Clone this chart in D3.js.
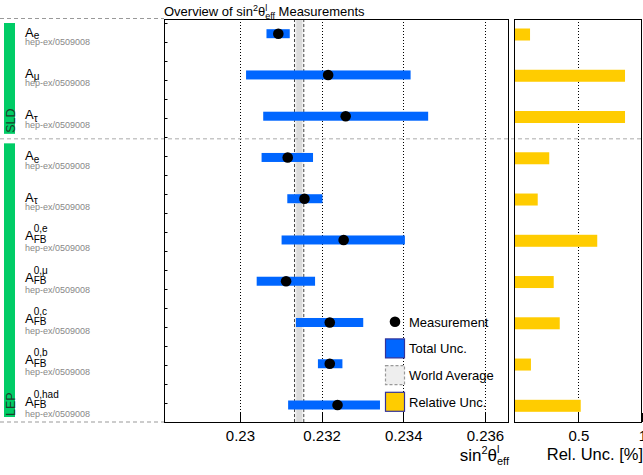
<!DOCTYPE html>
<html><head><meta charset="utf-8">
<script src="https://cdn.jsdelivr.net/npm/d3@7"></script>
<style>body{margin:0;background:#fff} svg{display:block;font-family:"Liberation Sans",Arial,Helvetica,sans-serif}</style>
</head><body><svg id="c" width="643" height="475"></svg>
<script>
// ---- data ----
const labelBase = ["A","A","A","A","A","A","A","A","A","A"];
const labelSub  = ["e","μ","τ","e","τ","FB","FB","FB","FB","FB"];
const labelSup  = ["","","","","","0,e","0,μ","0,c","0,b","0,had"];
const references = ["hep-ex/0509008","hep-ex/0509008","hep-ex/0509008","hep-ex/0509008","hep-ex/0509008",
                    "hep-ex/0509008","hep-ex/0509008","hep-ex/0509008","hep-ex/0509008","hep-ex/0509008"];
const groupNames = ["SLD","LEP"];
const groupSizes = [3,7];
const measValue = [0.23094,0.23216,0.23259,0.23117,0.23158,0.23254,0.23113,0.23220,0.23220,0.23239];
const totalLow  = [0.23065,0.23015,0.23057,0.23053,0.23116,0.23102,0.23041,0.23137,0.23191,0.23118];
const totalHigh = [0.23122,0.23418,0.23461,0.23179,0.23202,0.23404,0.23184,0.23302,0.23251,0.23343];
const relUnc    = [0.123,0.865,0.865,0.273,0.183,0.648,0.308,0.355,0.130,0.519];
const worldAverage = 0.23145;
const worldAverageErr = 0.000114;
const xTicks = [0.23,0.232,0.234,0.236];
const xTickLabels = ["0.23","0.232","0.234","0.236"];
const relTicks = [0.5,1];
const relTickLabels = ["0.5","1"];
const legendLabels = ["Measurement","Total Unc.","World Average","Relative Unc."];

// ---- layout ----
const svg = d3.select("#c");
const plotTop = 19, plotBottom = 422;
const mainL = 164, mainR = 509, relL = 514, relR = 642;
const BLUE = "#0066ff", YELLOW = "#ffcc00", GREEN = "#00cc66";

const x = d3.scaleLinear().domain([0.22814,0.23659]).range([mainL,mainR]);
const xr = d3.scaleLinear().domain([0,1]).range([relL+0.3,relR+0.3]);
const n = measValue.length;
const y = d3.scalePoint().domain(d3.range(n)).range([33.7,405]);

// group separators
const groupStart = [];
let acc = 0; groupSizes.forEach(s => { groupStart.push(acc); acc += s; });
const seps = [plotTop - 0.5];
groupStart.slice(1).forEach(s => seps.push((y(s-1)+y(s))/2 + 2));
seps.push(plotBottom);

// panels background
svg.append("rect").attr("x",mainL).attr("y",plotTop).attr("width",mainR-mainL).attr("height",plotBottom-plotTop).attr("fill","#fff");
svg.append("rect").attr("x",relL).attr("y",plotTop).attr("width",relR-relL).attr("height",plotBottom-plotTop).attr("fill","#fff");

// world average band
svg.append("rect").attr("x",x(worldAverage-worldAverageErr)).attr("y",plotTop)
  .attr("width",x(worldAverage+worldAverageErr)-x(worldAverage-worldAverageErr)).attr("height",plotBottom-plotTop)
  .attr("fill","#efefef");
svg.append("rect").attr("x",x(worldAverage-worldAverageErr*0.6)).attr("y",plotTop)
  .attr("width",x(worldAverage+worldAverageErr*0.6)-x(worldAverage-worldAverageErr*0.6)).attr("height",plotBottom-plotTop)
  .attr("fill","#dadada");
[worldAverage-worldAverageErr, worldAverage+worldAverageErr].forEach(v => {
  svg.append("line").attr("x1",x(v)).attr("x2",x(v)).attr("y1",plotTop).attr("y2",plotBottom)
    .attr("stroke","#444").attr("stroke-width",1).attr("stroke-dasharray","3,2");
});

// dotted grid
xTicks.forEach(v => svg.append("line").attr("x1",Math.round(x(v))+0.5).attr("x2",Math.round(x(v))+0.5)
  .attr("y1",plotTop).attr("y2",plotBottom).attr("stroke","#000").attr("stroke-dasharray","1,2"));
relTicks.filter(v=>v<1).forEach(v => svg.append("line").attr("x1",Math.round(xr(v))+0.5).attr("x2",Math.round(xr(v))+0.5)
  .attr("y1",plotTop).attr("y2",plotBottom).attr("stroke","#000").attr("stroke-dasharray","1,2"));

// group separators (dashed)
svg.append("line").attr("x1",0).attr("x2",mainL).attr("y1",seps[0]).attr("y2",seps[0])
  .attr("stroke","#999").attr("stroke-dasharray","4,3");
svg.append("line").attr("x1",0).attr("x2",mainL).attr("y1",plotBottom).attr("y2",plotBottom)
  .attr("stroke","#999").attr("stroke-dasharray","4,3");
seps.slice(1,-1).forEach(s => svg.append("line").attr("x1",0).attr("x2",643).attr("y1",s).attr("y2",s)
  .attr("stroke","#aaa").attr("stroke-dasharray","4,3"));

// total uncertainty bars
const bh = 9;
svg.append("g").selectAll("rect").data(d3.range(n)).join("rect")
  .attr("x",i=>x(totalLow[i])).attr("y",i=>y(i)-bh/2)
  .attr("width",i=>x(totalHigh[i])-x(totalLow[i])).attr("height",bh).attr("fill",BLUE);
// measurement dots
svg.append("g").selectAll("circle").data(d3.range(n)).join("circle")
  .attr("cx",i=>x(measValue[i])).attr("cy",i=>y(i)).attr("r",5.3).attr("fill","#000");

// relative uncertainty bars
const yh = 12;
svg.append("g").selectAll("rect").data(d3.range(n)).join("rect")
  .attr("x",xr(0)).attr("y",i=>y(i)-yh/2+0.8)
  .attr("width",i=>xr(relUnc[i])-xr(0)).attr("height",yh).attr("fill",YELLOW);

// frames
svg.append("rect").attr("x",mainL+0.5).attr("y",plotTop+0.5).attr("width",mainR-mainL-1).attr("height",plotBottom-plotTop)
  .attr("fill","none").attr("stroke","#000");
svg.append("rect").attr("x",relL+0.5).attr("y",plotTop+0.5).attr("width",relR-relL-1).attr("height",plotBottom-plotTop)
  .attr("fill","none").attr("stroke","#000");

// left minor ticks
for (let t = 23.3; t < plotBottom; t += 19) {
  svg.append("line").attr("x1",mainL).attr("x2",mainL+3.5).attr("y1",Math.round(t)+0.5).attr("y2",Math.round(t)+0.5)
    .attr("stroke","#000");
}

// bottom axes
const ax = d3.axisBottom(x).tickValues(xTicks).tickFormat((d,i)=>xTickLabels[i]).tickSize(0).tickPadding(8);
const gx = svg.append("g").attr("transform",`translate(0,${plotBottom})`).call(ax);
gx.select(".domain").remove();
gx.selectAll("text").attr("font-size",15).attr("font-family","Liberation Sans, Arial, sans-serif").attr("fill","#000");
xTicks.forEach(v => svg.append("line").attr("x1",Math.round(x(v))+0.5).attr("x2",Math.round(x(v))+0.5)
  .attr("y1",plotBottom).attr("y2",plotBottom-9).attr("stroke","#000"));
const axr = d3.axisBottom(xr).tickValues(relTicks).tickFormat((d,i)=>relTickLabels[i]).tickSize(0).tickPadding(8);
const gr = svg.append("g").attr("transform",`translate(0,${plotBottom})`).call(axr);
gr.select(".domain").remove();
gr.selectAll("text").attr("font-size",15).attr("font-family","Liberation Sans, Arial, sans-serif").attr("fill","#000");
relTicks.forEach(v => svg.append("line").attr("x1",Math.round(xr(v))+0.5).attr("x2",Math.round(xr(v))+0.5)
  .attr("y1",plotBottom).attr("y2",plotBottom-9).attr("stroke","#000"));

// rich-text helper: parts [{t,size,dy,stack}] ; stack=true means same x as previous part
function rich(g, x0, y0, parts) {
  let cx = x0, prevX = x0;
  parts.forEach(p => {
    const px = p.stack ? prevX : cx;
    const t = g.append("text").attr("x",px).attr("y",y0+(p.dy||0)).attr("font-size",p.size).attr("fill",p.fill||"#000")
      .style("white-space","pre").text(p.t);
    const w = t.node().getComputedTextLength();
    if (p.stack) { cx = Math.max(cx, px + w); }
    else { prevX = px; cx = px + w; }
  });
  return cx;
}

// title
rich(svg.append("g"), mainL, 16, [
  {t:"Overview of sin", size:13},
  {t:"2", size:9, dy:-5},
  {t:"θ", size:13},
  {t:"l", size:9, dy:-5},
  {t:"eff", size:9, dy:3, stack:true},
  {t:" Measurements", size:13}
]);

// x axis label
{
  const g = svg.append("g");
  const end = rich(g, 0, 461, [
    {t:"sin", size:17},
    {t:"2", size:11, dy:-7},
    {t:"θ", size:17},
    {t:"l", size:11, dy:-8},
    {t:"eff", size:11, dy:4, stack:true}
  ]);
  g.attr("transform",`translate(${mainR-end},0)`);
}
svg.append("text").attr("x",relR+1).attr("y",460).attr("text-anchor","end").attr("font-size",16.5).text("Rel. Unc. [%]");

// row labels
d3.range(n).forEach(i => {
  const g = svg.append("g");
  const cy = y(i);
  if (labelSup[i]) {
    const a = g.append("text").attr("x",25).attr("y",cy+0.5).attr("font-size",13).text(labelBase[i]);
    const w = a.node().getComputedTextLength();
    g.append("text").attr("x",25+w).attr("y",cy-7.5).attr("font-size",10).text(labelSup[i]);
    g.append("text").attr("x",25+w).attr("y",cy+3).attr("font-size",10).text(labelSub[i]);
  } else {
    const a = g.append("text").attr("x",25).attr("y",cy+3).attr("font-size",13).text(labelBase[i]);
    const w = a.node().getComputedTextLength();
    g.append("text").attr("x",25+w).attr("y",cy+5.5).attr("font-size",10).text(labelSub[i]);
  }
  g.append("text").attr("x",25).attr("y",cy+11.5).attr("font-size",9).attr("fill","#888").text(references[i]);
});

// group bars
groupNames.forEach((name, gi) => {
  const y0 = seps[gi] + 4.5, y1 = seps[gi+1] - 5;
  svg.append("rect").attr("x",4).attr("y",y0).attr("width",11).attr("height",y1-y0).attr("fill",GREEN);
  svg.append("text").attr("transform",`translate(14.5,${y1-1}) rotate(-90)`).attr("font-size",12.5)
    .attr("fill","#1f3d2a").text(name);
});

// legend
{
  const lx = 385, ly = 321.7, step = 26.7;
  svg.append("circle").attr("cx",lx+10).attr("cy",ly).attr("r",5.3).attr("fill","#000");
  const boxes = [{fill:BLUE,stroke:"#333399",dash:null},{fill:"#eeeeee",stroke:"#999",dash:"3,2"},{fill:YELLOW,stroke:"#333399",dash:null}];
  boxes.forEach((b,k) => {
    const cy = ly + step*(k+1);
    svg.append("rect").attr("x",lx+0.5).attr("y",cy-9.5).attr("width",19).attr("height",19)
      .attr("fill",b.fill).attr("stroke",b.stroke).attr("stroke-width",1.2).attr("stroke-dasharray",b.dash);
  });
  legendLabels.forEach((t,k) => svg.append("text").attr("x",lx+24).attr("y",ly+step*k+5).attr("font-size",13).text(t));
}
</script></body></html>
